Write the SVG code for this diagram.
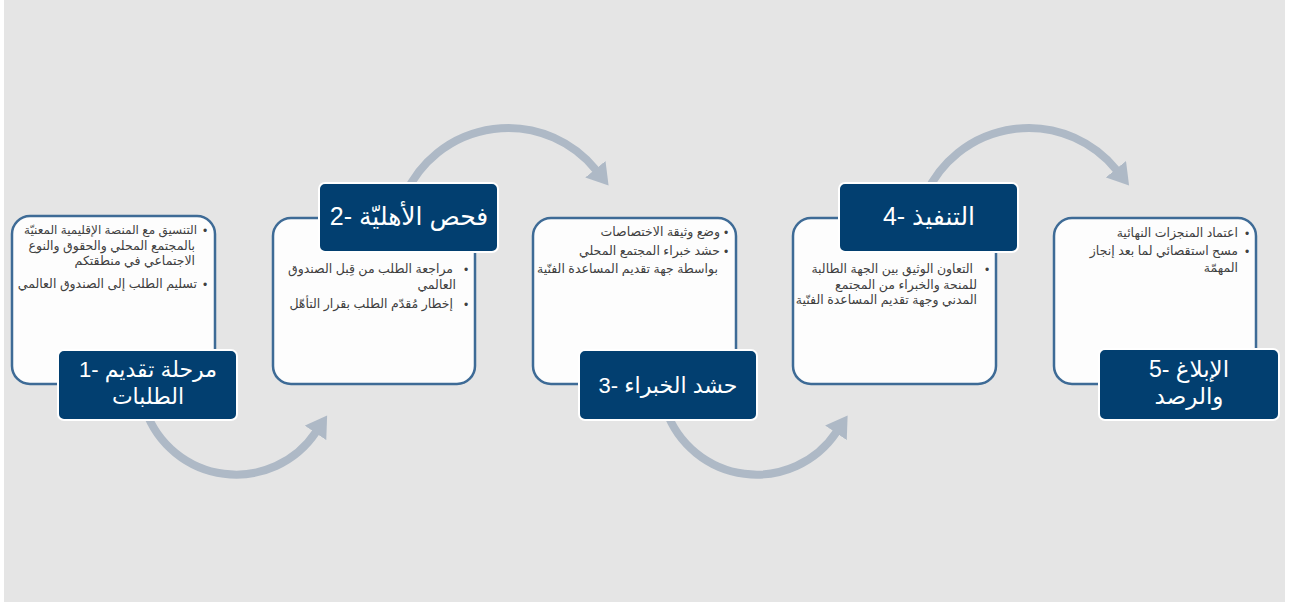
<svg xmlns="http://www.w3.org/2000/svg" width="1290" height="602" viewBox="0 0 1290 602">
<style>
.card{fill:#fdfdfd;stroke:#3e6b96;stroke-width:2.5}
.lbl{fill:#023f70;stroke:#ffffff;stroke-width:2}
.arc{fill:none;stroke:#aeb9c6;stroke-width:8}
.bt{font-family:"Liberation Sans","DejaVu Sans",Arial,sans-serif;font-size:12.5px;fill:#404040;direction:rtl;text-anchor:start}
.bu{font-family:"Liberation Sans","DejaVu Sans",Arial,sans-serif;font-size:12px;fill:#404040}
.lt{font-family:"Liberation Sans","DejaVu Sans",Arial,sans-serif;fill:#ffffff;direction:rtl;text-anchor:middle}
</style>
<defs>
<marker id="ah" markerUnits="userSpaceOnUse" markerWidth="22" markerHeight="26" refX="1" refY="13" orient="auto" viewBox="0 0 22 26">
<path d="M0,0 L21,13 L0,26 z" fill="#aeb9c6"/>
</marker>
</defs>
<rect x="0" y="0" width="1290" height="602" fill="#ffffff"/>
<rect x="4" y="0" width="1281" height="602" fill="#e5e5e5"/>

<g id="card1"><rect class="card" x="12" y="216" width="203" height="168" rx="18"/>
<text class="bu" x="203" y="235">•</text>
<text class="bt" x="197" y="234" font-size="12" style="font-size:12px">التنسيق مع المنصة الإقليمية المعنيّة</text>
<text class="bt" x="195" y="250">بالمجتمع المحلي والحقوق والنوع</text>
<text class="bt" x="195" y="265">الاجتماعي في منطقتكم</text>
<text class="bu" x="203" y="289">•</text>
<text class="bt" x="197" y="288">تسليم الطلب إلى الصندوق العالمي</text>
</g>
<g id="card2"><rect class="card" x="273" y="218" width="202" height="166" rx="18"/>
<text class="bu" x="464" y="274">•</text>
<text class="bt" x="453" y="273">مراجعة الطلب من قِبل الصندوق</text>
<text class="bt" x="456" y="289">العالمي</text>
<text class="bu" x="464" y="309">•</text>
<text class="bt" x="453" y="308">إخطار مُقدّم الطلب بقرار التأهّل</text>
</g>
<g id="card3"><rect class="card" x="533" y="218" width="203" height="166" rx="18"/>
<text class="bu" x="724" y="237">•</text>
<text class="bt" x="720" y="236">وضع وثيقة الاختصاصات</text>
<text class="bu" x="724" y="256">•</text>
<text class="bt" x="720" y="255">حشد خبراء المجتمع المحلي</text>
<text class="bt" x="718" y="273">بواسطة جهة تقديم المساعدة الفنّية</text>
</g>
<g id="card4"><rect class="card" x="793" y="218" width="203" height="166" rx="18"/>
<text class="bu" x="985" y="274">•</text>
<text class="bt" x="973" y="273">التعاون الوثيق بين الجهة الطالبة</text>
<text class="bt" x="977" y="289">للمنحة والخبراء من المجتمع</text>
<text class="bt" x="977" y="304">المدني وجهة تقديم المساعدة الفنّية</text>
</g>
<g id="card5"><rect class="card" x="1054" y="218" width="202" height="166" rx="18"/>
<text class="bu" x="1245" y="238">•</text>
<text class="bt" x="1238" y="237">اعتماد المنجزات النهائية</text>
<text class="bu" x="1245" y="256">•</text>
<text class="bt" x="1238" y="255">مسح استقصائي لما بعد إنجاز</text>
<text class="bt" x="1238" y="272">المهمّة</text>
</g>

<g id="connectors">
<path class="arc" marker-end="url(#ah)" d="M145.5,410 A96,96 0 0 0 316,432"/>
<path class="arc" marker-end="url(#ah)" d="M405,195 A113,113 0 0 1 596,170"/>
<path class="arc" marker-end="url(#ah)" d="M666,410 A96,96 0 0 0 836.5,432"/>
<path class="arc" marker-end="url(#ah)" d="M925.5,195 A113,113 0 0 1 1116.5,170"/>
</g>

<g id="label1"><rect class="lbl" x="58" y="350" width="179" height="70" rx="6"/>
<text class="lt" x="148" y="377" font-size="22">مرحلة تقديم  -1</text>
<text class="lt" x="148" y="404" font-size="22">الطلبات</text>
</g>
<g id="label2"><rect class="lbl" x="319" y="183" width="179" height="69" rx="6"/>
<text class="lt" x="409" y="225" font-size="25">فحص الأهليّة -2</text>
</g>
<g id="label3"><rect class="lbl" x="579" y="350" width="178" height="70" rx="6"/>
<text class="lt" x="668" y="393" font-size="22">حشد الخبراء -3</text>
</g>
<g id="label4"><rect class="lbl" x="839" y="183" width="179" height="69" rx="6"/>
<text class="lt" x="929" y="225" font-size="25">التنفيذ -4</text>
</g>
<g id="label5"><rect class="lbl" x="1099" y="349" width="180" height="71" rx="6"/>
<text class="lt" x="1189" y="377" font-size="23">الإبلاغ   -5</text>
<text class="lt" x="1189" y="404" font-size="23">والرصد</text>
</g>
</svg>
